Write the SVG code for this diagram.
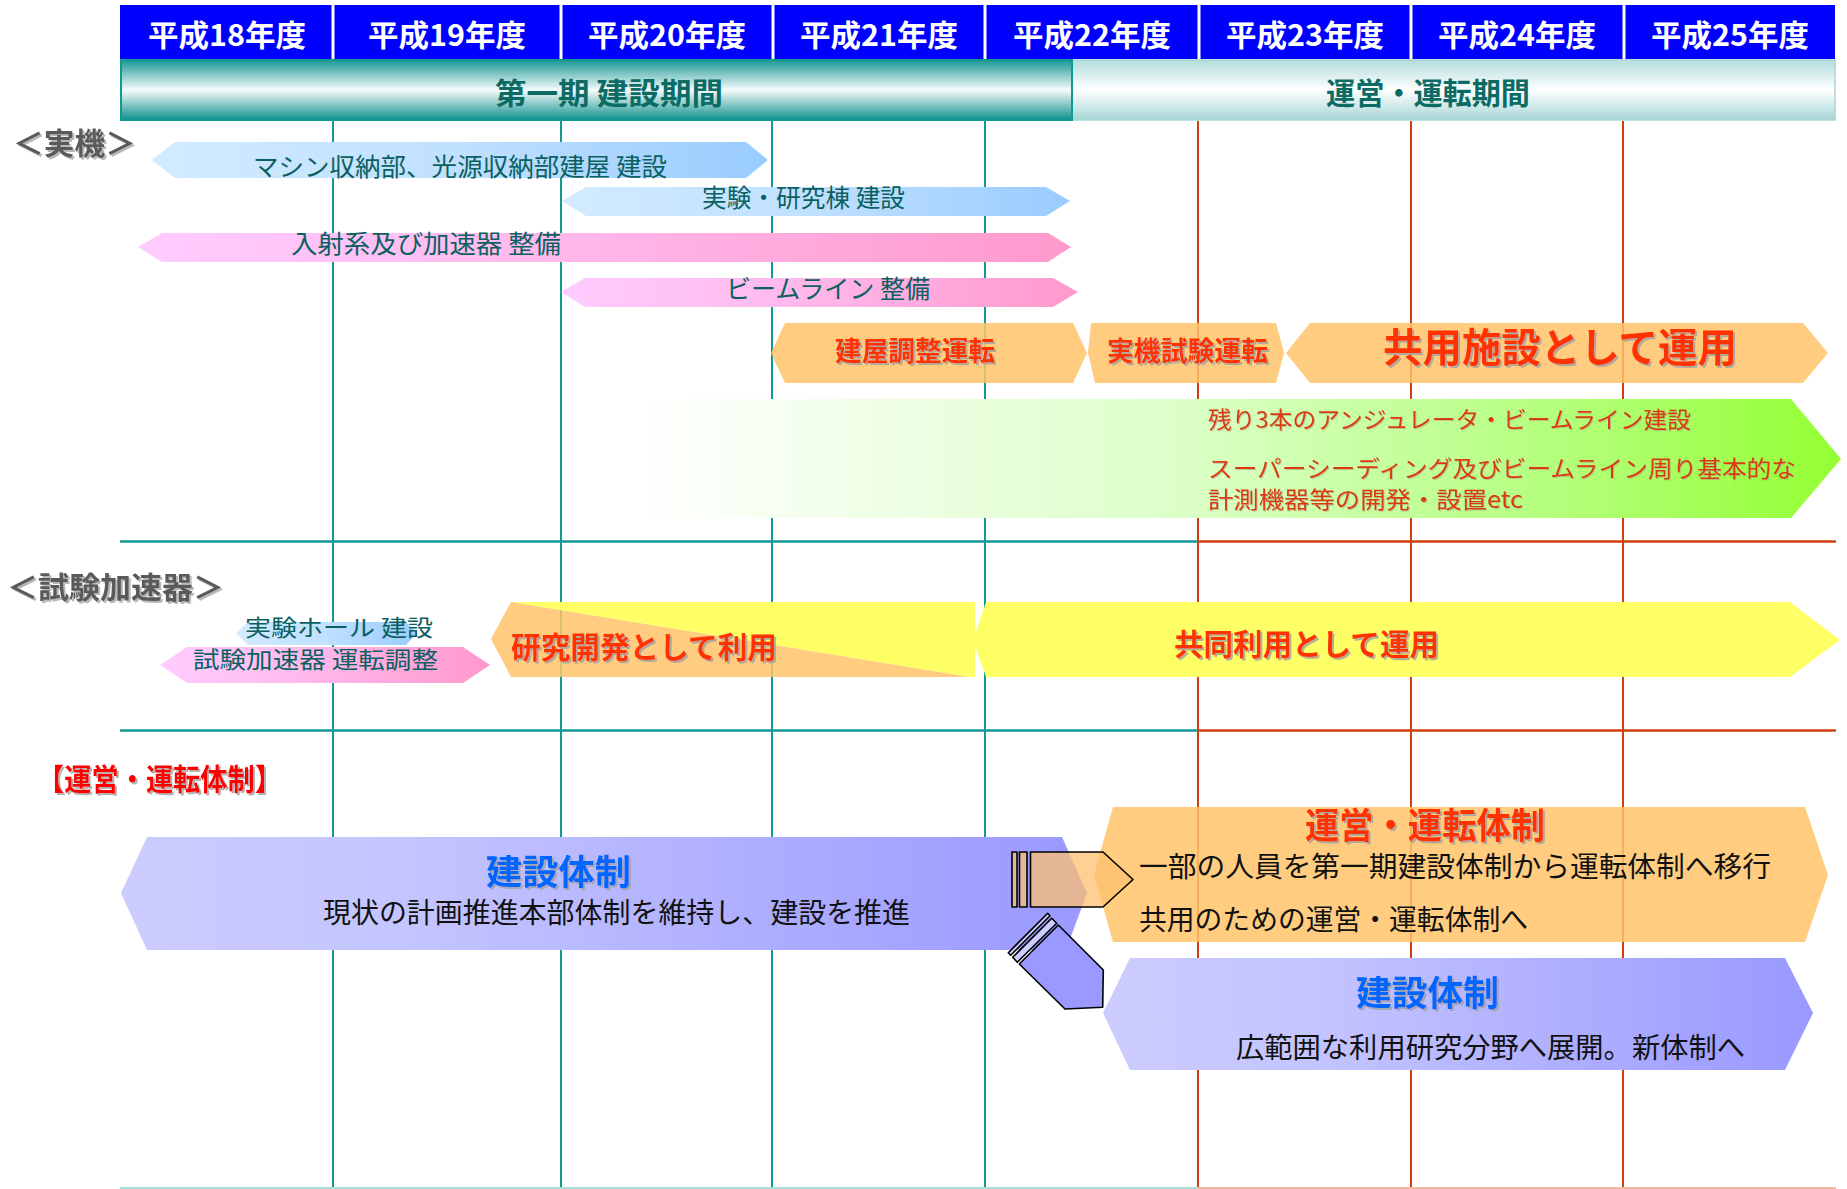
<svg xmlns="http://www.w3.org/2000/svg" width="1847" height="1189" viewBox="0 0 1847 1189">
<defs>
<style>
text{font-family:"Noto Sans CJK JP","Noto Sans CJK SC",sans-serif;}
.yr{fill:#fff;font-size:30px;font-weight:bold;text-anchor:middle;}
.band{fill:#0d6b66;font-size:30px;font-weight:bold;}
.sec{fill:#5a5a5a;font-size:30px;font-weight:bold;filter:url(#shg);}
.tl{fill:#0b6060;font-size:25px;}
.tls{fill:#0b6060;font-size:23px;}
.or{fill:#ff3300;font-weight:bold;filter:url(#sh);}
.gr{fill:#d93a10;font-size:23px;filter:url(#shl);}
.bl{fill:#0066ff;font-size:35px;font-weight:bold;filter:url(#sh);}
.bk{fill:#111;font-size:28px;}
.vt{stroke:#0f9a94;stroke-width:2;}
.vr{stroke:#d0400f;stroke-width:2;}
.semi{fill-opacity:0.85;}
.pen{stroke:#000;stroke-width:1.6;stroke-linejoin:round;}
</style>
<filter id="sh" x="-5%" y="-20%" width="110%" height="140%"><feDropShadow dx="2" dy="2" stdDeviation="0.4" flood-color="#a0a0a0" flood-opacity="0.8"/></filter>
<filter id="shl" x="-5%" y="-20%" width="110%" height="140%"><feDropShadow dx="1" dy="1" stdDeviation="0.3" flood-color="#b0a080" flood-opacity="0.6"/></filter>
<filter id="shg" x="-5%" y="-20%" width="110%" height="140%"><feDropShadow dx="2" dy="2" stdDeviation="0.4" flood-color="#b8b8b8" flood-opacity="1"/></filter>
<linearGradient id="gBandL" x1="0" y1="0" x2="0" y2="1"><stop offset="0" stop-color="#1a9894"/><stop offset="0.5" stop-color="#f6fbfb"/><stop offset="1" stop-color="#0f908c"/></linearGradient>
<linearGradient id="gBandR" x1="0" y1="0" x2="0" y2="1"><stop offset="0" stop-color="#b4dcdc"/><stop offset="0.5" stop-color="#ffffff"/><stop offset="1" stop-color="#a6d6d6"/></linearGradient>
<linearGradient id="gBlue" x1="0" y1="0" x2="1" y2="0"><stop offset="0" stop-color="#d2ebff"/><stop offset="0.5" stop-color="#bfe0ff"/><stop offset="1" stop-color="#99ccff"/></linearGradient>
<linearGradient id="gPink" x1="0" y1="0" x2="1" y2="0"><stop offset="0" stop-color="#ffccff"/><stop offset="0.4" stop-color="#ffbbee"/><stop offset="1" stop-color="#ff99cc"/></linearGradient>
<linearGradient id="gGreen" x1="0" y1="0" x2="1" y2="0"><stop offset="0" stop-color="#ffffff"/><stop offset="0.45" stop-color="#dcffc8"/><stop offset="0.75" stop-color="#b6ff80"/><stop offset="1" stop-color="#94ff33"/></linearGradient>
<linearGradient id="gPurple" x1="0" y1="0" x2="1" y2="0"><stop offset="0" stop-color="#ccccff"/><stop offset="0.3" stop-color="#c4c4ff"/><stop offset="1" stop-color="#9999ff"/></linearGradient>
</defs>

<rect x="0" y="0" width="1847" height="1189" fill="#fff"/>

<g id="header">
<rect x="120" y="5" width="1715" height="54" fill="#0000ff"/>
<g stroke="#fff" stroke-width="3">
<line x1="333" y1="5" x2="333" y2="59"/><line x1="561" y1="5" x2="561" y2="59"/><line x1="773" y1="5" x2="773" y2="59"/><line x1="985" y1="5" x2="985" y2="59"/><line x1="1199" y1="5" x2="1199" y2="59"/><line x1="1411" y1="5" x2="1411" y2="59"/><line x1="1624" y1="5" x2="1624" y2="59"/>
</g>
<text class="yr" x="227" y="46" textLength="158" lengthAdjust="spacingAndGlyphs">平成18年度</text>
<text class="yr" x="447" y="46" textLength="158" lengthAdjust="spacingAndGlyphs">平成19年度</text>
<text class="yr" x="667" y="46" textLength="158" lengthAdjust="spacingAndGlyphs">平成20年度</text>
<text class="yr" x="879" y="46" textLength="158" lengthAdjust="spacingAndGlyphs">平成21年度</text>
<text class="yr" x="1092" y="46" textLength="158" lengthAdjust="spacingAndGlyphs">平成22年度</text>
<text class="yr" x="1305" y="46" textLength="158" lengthAdjust="spacingAndGlyphs">平成23年度</text>
<text class="yr" x="1517" y="46" textLength="158" lengthAdjust="spacingAndGlyphs">平成24年度</text>
<text class="yr" x="1730" y="46" textLength="158" lengthAdjust="spacingAndGlyphs">平成25年度</text>
</g>

<g id="period-band">
<rect x="1072" y="60" width="763" height="60" fill="url(#gBandR)" stroke="#a6d6d6" stroke-width="1.5"/>
<rect x="121" y="60" width="951" height="60" fill="url(#gBandL)" stroke="#0f9a94" stroke-width="2"/>
<text class="band" x="495" y="104" textLength="228" lengthAdjust="spacingAndGlyphs">第一期 建設期間</text>
<text class="band" x="1326" y="104" textLength="204" lengthAdjust="spacingAndGlyphs">運営・運転期間</text>
</g>

<g id="grid">
<line class="vt" x1="333" y1="121" x2="333" y2="1189"/>
<line class="vt" x1="561" y1="121" x2="561" y2="1189"/>
<line class="vt" x1="772" y1="121" x2="772" y2="1189"/>
<line class="vt" x1="985" y1="121" x2="985" y2="1189"/>
<line class="vr" x1="1198" y1="121" x2="1198" y2="1189"/>
<line class="vr" x1="1411" y1="121" x2="1411" y2="1189"/>
<line class="vr" x1="1623" y1="121" x2="1623" y2="1189"/>
<line x1="120" y1="541.5" x2="1198" y2="541.5" stroke="#0f9a94" stroke-width="2.5"/>
<line x1="1198" y1="541.5" x2="1836" y2="541.5" stroke="#d0400f" stroke-width="2.5"/>
<line x1="120" y1="730.5" x2="1198" y2="730.5" stroke="#0f9a94" stroke-width="2.5"/>
<line x1="1198" y1="730.5" x2="1836" y2="730.5" stroke="#d0400f" stroke-width="2.5"/>
<line x1="120" y1="1188" x2="1198" y2="1188" stroke="#a6dedb" stroke-width="2"/>
<line x1="1198" y1="1188" x2="1836" y2="1188" stroke="#f2b8a2" stroke-width="2"/>
</g>

<g id="label-jikki"><text class="sec" x="13" y="154" textLength="123" lengthAdjust="spacingAndGlyphs">＜実機＞</text></g>
<g id="label-shiken"><text class="sec" x="7" y="598" textLength="217" lengthAdjust="spacingAndGlyphs">＜試験加速器＞</text></g>
<g id="label-taisei"><text x="37" y="790" font-size="30" font-weight="bold" fill="#ff0000" filter="url(#sh)" textLength="245" lengthAdjust="spacingAndGlyphs">【運営・運転体制】</text></g>

<g id="bar-machine-building">
<polygon points="152,160 175,142 746,142 768,160 746,178 175,178" fill="url(#gBlue)"/>
<text class="tl" x="253" y="176" textLength="414" lengthAdjust="spacingAndGlyphs">マシン収納部、光源収納部建屋 建設</text>
</g>
<g id="bar-lab-building">
<polygon points="562,201 586,187 1046,187 1070,201 1046,216 586,216" fill="url(#gBlue)"/>
<text class="tl" x="702" y="207" textLength="203" lengthAdjust="spacingAndGlyphs">実験・研究棟 建設</text>
</g>
<g id="bar-injector">
<polygon points="138,247 162,233 1048,233 1071,247 1048,262 162,262" fill="url(#gPink)"/>
<text class="tl" x="291" y="253" textLength="270" lengthAdjust="spacingAndGlyphs">入射系及び加速器 整備</text>
</g>
<g id="bar-beamline">
<polygon points="561,292 585,278 1053,278 1078,292 1053,307 585,307" fill="url(#gPink)"/>
<text class="tl" x="726" y="298" textLength="204" lengthAdjust="spacingAndGlyphs">ビームライン 整備</text>
</g>

<g id="bar-adjust-run">
<polygon class="semi" points="771,353 785,323 1073,323 1087,353 1073,383 785,383" fill="#ffc36a"/>
<text class="or" x="835" y="361" font-size="27" textLength="160" lengthAdjust="spacingAndGlyphs">建屋調整運転</text>
</g>
<g id="bar-test-run">
<polygon class="semi" points="1088,353 1091,323 1276,323 1284,353 1276,383 1095,383" fill="#ffc36a"/>
<text class="or" x="1107" y="361" font-size="27" textLength="161" lengthAdjust="spacingAndGlyphs">実機試験運転</text>
</g>
<g id="bar-shared-use">
<polygon class="semi" points="1286,353 1310,323 1803,323 1828,353 1803,383 1310,383" fill="#ffc36a"/>
<text class="or" x="1383" y="362" font-size="40" textLength="354" lengthAdjust="spacingAndGlyphs">共用施設として運用</text>
</g>

<g id="bar-future">
<polygon points="636,399 1791,399 1841,459 1791,518 636,518" fill="url(#gGreen)"/>
<text class="gr" x="1208" y="428" textLength="483" lengthAdjust="spacingAndGlyphs">残り3本のアンジュレータ・ビームライン建設</text>
<text class="gr" x="1208" y="477" textLength="588" lengthAdjust="spacingAndGlyphs">スーパーシーディング及びビームライン周り基本的な</text>
<text class="gr" x="1208" y="508" textLength="315" lengthAdjust="spacingAndGlyphs">計測機器等の開発・設置etc</text>
</g>

<g id="bar-test-hall">
<polygon points="236,633 248,622 406,622 417,633 406,645 248,645" fill="url(#gBlue)"/>
<text class="tls" x="245" y="636" textLength="188" lengthAdjust="spacingAndGlyphs">実験ホール 建設</text>
</g>
<g id="bar-test-acc">
<polygon points="160,665 187,647 463,647 490,665 463,683 187,683" fill="url(#gPink)"/>
<text class="tls" x="193" y="668" textLength="245" lengthAdjust="spacingAndGlyphs">試験加速器 運転調整</text>
</g>

<g id="bar-rd-use">
<polygon points="511,602 975,602 975,677 969,677" fill="#ffff66"/>
<polygon class="semi" points="491,639 511,602 969,677 511,677" fill="#ffc36a"/>
<text class="or" x="511" y="658" font-size="30" textLength="266" lengthAdjust="spacingAndGlyphs">研究開発として利用</text>
</g>
<g id="bar-joint-use">
<polygon points="986,602 1790,602 1840,640 1790,677 986,677 973,640" fill="#ffff66"/>
<text class="or" x="1174" y="655" font-size="30" textLength="265" lengthAdjust="spacingAndGlyphs">共同利用として運用</text>
</g>

<g id="org-construction">
<polygon points="121,893 147,837 1062,837 1087,893 1066,950 147,950" fill="url(#gPurple)"/>
<text class="bl" x="486" y="885" textLength="145" lengthAdjust="spacingAndGlyphs">建設体制</text>
<text class="bk" x="323" y="923" textLength="587" lengthAdjust="spacingAndGlyphs">現状の計画推進本部体制を維持し、建設を推進</text>
</g>

<g id="org-operation">
<polygon class="semi" points="1094,875 1113,807 1805,807 1828,875 1805,942 1113,942" fill="#ffc36a"/>
<text class="or" x="1305" y="839" font-size="36" textLength="240" lengthAdjust="spacingAndGlyphs">運営・運転体制</text>
<text class="bk" x="1139" y="877" textLength="632" lengthAdjust="spacingAndGlyphs">一部の人員を第一期建設体制から運転体制へ移行</text>
<text class="bk" x="1139" y="930" textLength="389" lengthAdjust="spacingAndGlyphs">共用のための運営・運転体制へ</text>
</g>

<g id="org-new-construction">
<polygon points="1103,1013 1130,958 1785,958 1813,1013 1785,1070 1130,1070" fill="url(#gPurple)"/>
<text class="bl" x="1356" y="1006" textLength="143" lengthAdjust="spacingAndGlyphs">建設体制</text>
<text class="bk" x="1236" y="1058" textLength="509" lengthAdjust="spacingAndGlyphs">広範囲な利用研究分野へ展開。新体制へ</text>
</g>

<g id="connectors">
<g id="pencil-to-operation">
<rect class="pen" x="1012" y="852" width="5" height="55" fill="#ffc070" fill-opacity="0.75"/>
<rect class="pen" x="1019.5" y="852" width="7.5" height="55" fill="#ffc070" fill-opacity="0.75"/>
<polygon class="pen" points="1030.5,852 1103,852 1133,879.5 1103,907 1030.5,907" fill="#ffc070" fill-opacity="0.75"/>
</g>
<g id="pencil-to-construction">
<polygon class="pen" points="1008.3,952.7 1047.7,913.3 1050,915.8 1010.7,955.3" fill="#ccccff"/>
<polygon class="pen" points="1012.7,957.3 1051.7,918.3 1056.7,923.3 1017.3,962.3" fill="#ccccff"/>
<polygon class="pen" points="1019.3,964 1058.3,925 1103.3,970 1102.7,1007.3 1065,1009" fill="#9999ff"/>
</g>
</g>
</svg>
